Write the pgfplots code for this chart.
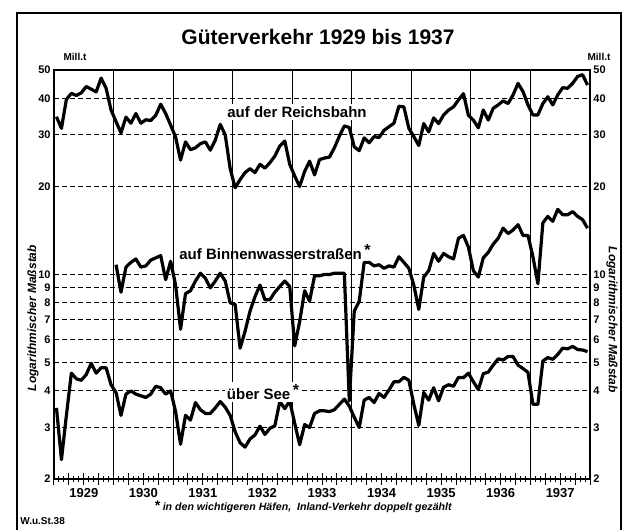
\documentclass[border=0pt]{standalone}
\usepackage{fontspec}
\setmainfont{Liberation Sans}
\usepackage{pgfplots}
\usepackage{pgfplotstable}
\pgfplotsset{compat=1.18}

% monthly values, Mill. t, Jan 1929 - Dec 1937
\pgfplotstableread[row sep=\\]{
v\\
34.6\\ 31.6\\ 39.7\\ 41.6\\ 40.9\\ 41.8\\ 43.9\\ 43.0\\ 42.1\\ 46.9\\ 43.3\\ 36.5\\
33.3\\ 30.5\\ 34.5\\ 32.9\\ 35.5\\ 32.9\\ 33.8\\ 33.6\\ 35.0\\ 38.2\\ 35.5\\ 32.4\\
29.5\\ 24.6\\ 28.4\\ 26.7\\ 27.1\\ 28.0\\ 28.4\\ 26.6\\ 28.8\\ 32.6\\ 30.0\\ 23.0\\
19.8\\ 21.1\\ 22.3\\ 23.0\\ 22.3\\ 23.8\\ 23.1\\ 24.1\\ 25.4\\ 27.5\\ 28.6\\ 23.8\\
21.7\\ 20.0\\ 22.5\\ 24.4\\ 21.9\\ 24.7\\ 25.0\\ 25.2\\ 27.1\\ 29.7\\ 32.2\\ 31.8\\
27.3\\ 26.5\\ 29.3\\ 28.2\\ 29.6\\ 29.4\\ 31.1\\ 32.0\\ 32.9\\ 37.6\\ 37.4\\ 31.6\\
29.6\\ 27.6\\ 32.8\\ 30.7\\ 34.3\\ 32.8\\ 35.1\\ 36.5\\ 37.4\\ 39.5\\ 41.5\\ 35.0\\
33.7\\ 31.7\\ 36.5\\ 33.7\\ 37.0\\ 38.0\\ 39.2\\ 38.4\\ 41.1\\ 45.0\\ 42.2\\ 38.0\\
35.1\\ 35.1\\ 38.4\\ 40.5\\ 38.0\\ 41.1\\ 43.5\\ 43.3\\ 45.0\\ 47.5\\ 48.2\\ 44.4\\
}\reichsbahn

% from Jan 1930
\pgfplotstableread[row sep=\\]{
v\\
10.8\\ 8.7\\ 10.6\\ 11.0\\ 11.3\\ 10.6\\ 10.7\\ 11.2\\ 11.4\\ 11.6\\ 9.6\\ 11.1\\
9.2\\ 6.5\\ 8.6\\ 8.8\\ 9.5\\ 10.1\\ 9.7\\ 9.0\\ 9.5\\ 10.1\\ 9.5\\ 8.0\\
7.9\\ 5.6\\ 6.4\\ 7.5\\ 8.4\\ 9.2\\ 8.2\\ 8.2\\ 8.7\\ 9.1\\ 9.5\\ 9.1\\
5.7\\ 6.9\\ 8.8\\ 8.1\\ 9.9\\ 9.9\\ 10.0\\ 10.0\\ 10.1\\ 10.1\\ 10.1\\ 3.7\\
7.5\\ 8.1\\ 11.0\\ 11.0\\ 10.7\\ 10.8\\ 10.5\\ 10.7\\ 10.6\\ 11.5\\ 11.0\\ 10.5\\
9.2\\ 7.6\\ 9.8\\ 10.3\\ 11.8\\ 11.1\\ 11.8\\ 11.5\\ 11.3\\ 13.3\\ 13.6\\ 12.4\\
10.3\\ 9.8\\ 11.4\\ 11.9\\ 12.7\\ 13.3\\ 14.4\\ 13.8\\ 14.2\\ 14.8\\ 13.6\\ 13.6\\
11.5\\ 9.3\\ 15.0\\ 15.8\\ 15.2\\ 16.7\\ 16.0\\ 16.0\\ 16.4\\ 15.8\\ 15.4\\ 14.4\\
}\binnen

\pgfplotstableread[row sep=\\]{
v\\
3.5\\ 2.33\\ 3.3\\ 4.6\\ 4.4\\ 4.35\\ 4.55\\ 4.97\\ 4.6\\ 4.8\\ 4.8\\ 4.2\\
3.95\\ 3.3\\ 3.9\\ 4.0\\ 3.9\\ 3.85\\ 3.8\\ 3.9\\ 4.15\\ 4.1\\ 3.9\\ 4.0\\
3.4\\ 2.63\\ 3.3\\ 3.18\\ 3.65\\ 3.45\\ 3.35\\ 3.35\\ 3.5\\ 3.68\\ 3.52\\ 3.3\\
2.9\\ 2.66\\ 2.57\\ 2.74\\ 2.83\\ 3.03\\ 2.84\\ 2.98\\ 3.04\\ 3.68\\ 3.48\\ 3.7\\
3.1\\ 2.62\\ 3.07\\ 3.0\\ 3.35\\ 3.42\\ 3.42\\ 3.4\\ 3.45\\ 3.6\\ 3.75\\ 3.55\\
3.25\\ 3.0\\ 3.72\\ 3.8\\ 3.65\\ 3.92\\ 3.8\\ 4.03\\ 4.3\\ 4.3\\ 4.45\\ 4.35\\
3.6\\ 3.05\\ 3.95\\ 3.72\\ 4.1\\ 3.7\\ 4.12\\ 4.2\\ 4.15\\ 4.45\\ 4.44\\ 4.6\\
4.3\\ 4.04\\ 4.58\\ 4.64\\ 4.9\\ 5.15\\ 5.1\\ 5.25\\ 5.24\\ 4.9\\ 4.77\\ 4.63\\
3.6\\ 3.6\\ 5.06\\ 5.2\\ 5.13\\ 5.33\\ 5.6\\ 5.57\\ 5.68\\ 5.54\\ 5.52\\ 5.45\\
}\see

\newcommand{\tickfont}{\bfseries\fontsize{5.5}{6}\selectfont}
\newcommand{\yearfont}{\bfseries\fontsize{6.5}{7}\selectfont}
\newcommand{\fnmark}{\,\raisebox{2pt}{\fontsize{8}{8}\selectfont *}}

\begin{document}
\begin{tikzpicture}
\path (0pt,0pt) rectangle (316.5pt,265pt);
\draw[line width=0.6pt] (8.5pt,0pt) -- (8.5pt,258.5pt) -- (310.5pt,258.5pt) -- (310.5pt,0pt);

\begin{axis}[
  at={(27pt,25.5pt)}, anchor=south west,
  scale only axis, width=268pt, height=204.5pt,
  xmin=0, xmax=108, ymin=2, ymax=50, ymode=log,
  clip=false,
  axis line style={line width=0.6pt},
  xtick={0,3,...,108}, xticklabels={}, minor x tick num=2,
  xtick pos=left, xtick align=center,
  major tick length=6pt, minor tick length=3.5pt,
  tick style={black, line width=0.5pt},
  ytick={2,3,4,5,6,7,8,9,10,20,30,40,50},
  yticklabels={2,3,4,5,6,7,8,9,10,20,30,40,50},
  ytick style={draw=none},
  yticklabel style={font=\tickfont, inner sep=1.5pt},
  /pgf/number format/assume math mode=true,
  ymajorgrids,
  y grid style={black, line width=0.5pt, dash pattern=on 2.5pt off 1.5pt},
]
\pgfplotsinvokeforeach{12,24,36,48,60,72,84,96}{
  \draw[line width=0.6pt] (axis cs:#1,50) -- (axis cs:#1,2) -- ++(0,-12pt);
}
\draw[line width=0.6pt] (axis cs:0,2) -- ++(0,-12pt);
\draw[line width=0.6pt] (axis cs:108,2) -- ++(0,-12pt);
\pgfplotsinvokeforeach{2,3,4,5,6,7,8,9,10,20,30,40,50}{
  \node[anchor=west, font=\tickfont, inner sep=1.5pt] at (axis cs:108,#1) {#1};
}
\node[font=\yearfont] at (axis cs:6,2) [yshift=-7pt] {1929};
\node[font=\yearfont] at (axis cs:18,2) [yshift=-7pt] {1930};
\node[font=\yearfont] at (axis cs:30,2) [yshift=-7pt] {1931};
\node[font=\yearfont] at (axis cs:42,2) [yshift=-7pt] {1932};
\node[font=\yearfont] at (axis cs:54,2) [yshift=-7pt] {1933};
\node[font=\yearfont] at (axis cs:66,2) [yshift=-7pt] {1934};
\node[font=\yearfont] at (axis cs:78,2) [yshift=-7pt] {1935};
\node[font=\yearfont] at (axis cs:90,2) [yshift=-7pt] {1936};
\node[font=\yearfont] at (axis cs:102,2) [yshift=-7pt] {1937};

\addplot[black, line width=1.6pt, line join=round, mark=none]
  table[x expr=\coordindex+0.5, y=v] {\reichsbahn};
\addplot[black, line width=1.6pt, line join=round, mark=none]
  table[x expr=\coordindex+12.5, y=v] {\binnen};
\addplot[black, line width=1.6pt, line join=round, mark=none]
  table[x expr=\coordindex+0.5, y=v] {\see};
\end{axis}

\node[font=\bfseries\fontsize{10.5}{12}\selectfont] at (159pt,246.5pt) {Güterverkehr 1929 bis 1937};
\node[font=\bfseries\fontsize{5}{6}\selectfont] at (37.5pt,236.5pt) {Mill.t};
\node[font=\bfseries\fontsize{5}{6}\selectfont] at (299.5pt,236.5pt) {Mill.t};
\node[font=\bfseries\itshape\fontsize{6}{7}\selectfont, rotate=90] at (16.5pt,106pt) {Logarithmischer Maßstab};
\node[font=\bfseries\itshape\fontsize{6}{7}\selectfont, rotate=-90] at (306pt,105pt) {Logarithmischer Maßstab};
\node[font=\bfseries\fontsize{7.5}{9}\selectfont, fill=white, inner sep=1pt] at (148.5pt,209pt) {auf der Reichsbahn};
\node[font=\bfseries\fontsize{7.5}{9}\selectfont, inner sep=1pt] at (137.5pt,139pt) {auf Binnenwasserstraßen\fnmark};
\node[font=\bfseries\fontsize{7.5}{9}\selectfont, fill=white, inner sep=1pt] at (131.5pt,69pt) {über See\fnmark};
\node[font=\bfseries\itshape\fontsize{5.3}{6}\selectfont] at (151.5pt,11.5pt) {{\fontsize{7}{7}\selectfont *} in den wichtigeren Häfen,\ \ Inland-Verkehr doppelt gezählt};
\node[font=\bfseries\fontsize{5}{6}\selectfont, anchor=west, inner sep=0pt] at (10pt,4.5pt) {W.u.St.38};
\end{tikzpicture}
\end{document}
